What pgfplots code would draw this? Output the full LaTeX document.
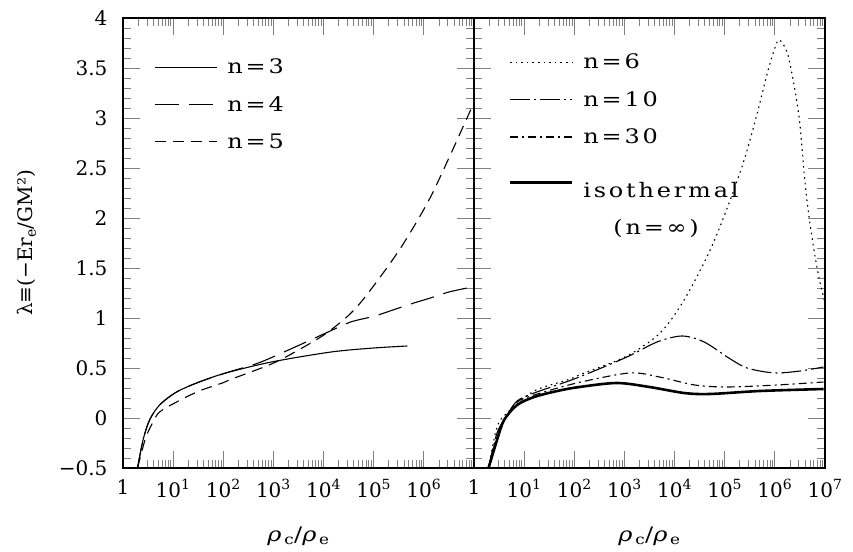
\documentclass[border=0pt]{standalone}
\usepackage{fontspec}
\setmainfont{DejaVu Serif}
\newfontfamily\widefont{DejaVu Serif}[FakeStretch=1.2, LetterSpace=14]
\usepackage{pgfplots}
\pgfplotsset{compat=1.18}

\newcommand{\plotfont}{\fontsize{20}{24}\selectfont}

\tikzset{crv/.style={black, line width=1.1pt, smooth, tension=0.5}}
\pgfplotsset{
  legend image code/.code={\draw[#1] (0pt,0pt) -- (62pt,0pt);},
}

\begin{document}
\begin{tikzpicture}
\begin{axis}[name=L,
  width=351pt, height=450pt, scale only axis,
  xmode=log, xmin=1, xmax=1e7, ymin=-0.5, ymax=4,
  xtick={1,10,100,1000,10000,100000,1000000,10000000},
  minor xtick={2,3,4,5,6,7,8,9,20,30,40,50,60,70,80,90,
    200,300,400,500,600,700,800,900,2000,3000,4000,5000,6000,7000,8000,9000,
    2e4,3e4,4e4,5e4,6e4,7e4,8e4,9e4,2e5,3e5,4e5,5e5,6e5,7e5,8e5,9e5,
    2e6,3e6,4e6,5e6,6e6,7e6,8e6,9e6},
  ytick={-0.5,0,0.5,1,1.5,2,2.5,3,3.5,4},
  minor y tick num=4,
  tick align=inside,
  major tick length=17pt, minor tick length=8pt,
  major tick style={line width=0.9pt},
  minor tick style={line width=0.8pt},
  axis line style={line width=1.3pt},
  tick label style={font=\plotfont},
  xticklabel style={yshift=-8pt},
  yticklabel style={xshift=-12pt},
  xlabel={\textit{ρ}\textsubscript{c}/\textit{ρ}\textsubscript{e}},
  xlabel style={font=\plotfont\widefont, yshift=-22pt},
  legend cell align=left,
  legend style={draw=none, fill=none, font=\plotfont\widefont,
    row sep=17pt, column sep=8pt, at={(0.08,0.918)}, anchor=north west},
  xticklabels={1,10\textsuperscript{1},10\textsuperscript{2},10\textsuperscript{3},10\textsuperscript{4},10\textsuperscript{5},10\textsuperscript{6},{}},
  yticklabels={−0.5,0,0.5,1,1.5,2,2.5,3,3.5,4},
  ylabel={λ≡(−Er\textsubscript{e}/GM²)},
  ylabel style={font=\fontsize{20}{24}\selectfont, yshift=16pt},
]
  % n=3
  \addplot[crv, solid] coordinates {
    (1.95,-0.5) (2.51,-0.22) (3.39,-0.02) (5.37,0.13) (11.7,0.26) (33.1,0.36)
    (112,0.45) (912,0.56) (14130,0.66) (100000,0.70) (467700,0.72)
  };
  \addlegendentry{n=3}
  % n=4
  \addplot[crv, dash pattern=on 24pt off 10pt] coordinates {
    (1.95,-0.5) (2.51,-0.22) (3.39,-0.02) (5.37,0.13) (11.7,0.26) (33.1,0.36)
    (129,0.46) (501,0.55) (1995,0.68) (12300,0.86) (34670,0.96) (104700,1.02)
    (316200,1.10) (631000,1.15) (1.349e6,1.20) (3.162e6,1.26) (9.12e6,1.31)
  };
  \addlegendentry{n=4}
  % n=5
  \addplot[crv, dash pattern=on 11pt off 7pt] coordinates {
    (1.95,-0.5) (2.82,-0.2) (3.98,-0.04) (5.37,0.06) (11.7,0.16) (33.1,0.27)
    (95.5,0.35) (148,0.39) (912,0.54) (3162,0.68) (12300,0.86) (47860,1.12)
    (295100,1.65) (1.175e6,2.15) (3.162e6,2.6) (8.913e6,3.1)
  };
  \addlegendentry{n=5}
\end{axis}

\begin{axis}[name=R, at={(L.south east)}, anchor=south west,
  width=351pt, height=450pt, scale only axis,
  xmode=log, xmin=1, xmax=1e7, ymin=-0.5, ymax=4,
  xtick={1,10,100,1000,10000,100000,1000000,10000000},
  minor xtick={2,3,4,5,6,7,8,9,20,30,40,50,60,70,80,90,
    200,300,400,500,600,700,800,900,2000,3000,4000,5000,6000,7000,8000,9000,
    2e4,3e4,4e4,5e4,6e4,7e4,8e4,9e4,2e5,3e5,4e5,5e5,6e5,7e5,8e5,9e5,
    2e6,3e6,4e6,5e6,6e6,7e6,8e6,9e6},
  ytick={-0.5,0,0.5,1,1.5,2,2.5,3,3.5,4},
  minor y tick num=4,
  tick align=inside,
  major tick length=17pt, minor tick length=8pt,
  major tick style={line width=0.9pt},
  minor tick style={line width=0.8pt},
  axis line style={line width=1.3pt},
  tick label style={font=\plotfont},
  xticklabel style={yshift=-8pt},
  xlabel={\textit{ρ}\textsubscript{c}/\textit{ρ}\textsubscript{e}},
  xlabel style={font=\plotfont\widefont, yshift=-22pt},
  legend cell align=left,
  legend style={draw=none, fill=none, font=\plotfont\widefont,
    row sep=17pt, column sep=8pt, at={(0.09,0.929)}, anchor=north west},
  xticklabels={1,10\textsuperscript{1},10\textsuperscript{2},10\textsuperscript{3},10\textsuperscript{4},10\textsuperscript{5},10\textsuperscript{6},10\textsuperscript{7}},
  yticklabels={},
]
  % n=6
  \addplot[crv, dash pattern=on 1.6pt off 4pt] coordinates {
    (1.95,-0.5) (2.88,-0.09) (4.57,0.05) (15.8,0.27) (72.4,0.38) (158,0.45)
    (1122,0.62) (5129,0.85) (15490,1.18) (51290,1.68) (128800,2.18) (251200,2.6)
    (446700,3.05) (707900,3.45) (1e6,3.7) (1.23e6,3.78) (1.778e6,3.65)
    (2.455e6,3.31) (3.09e6,2.98) (3.548e6,2.65) (4.074e6,2.31) (4.898e6,1.98)
    (6.166e6,1.65) (7.762e6,1.38) (1e7,1.15)
  };
  \addlegendentry{n=6}
  % n=10
  \addplot[crv, dash pattern=on 20pt off 4pt on 2pt off 4pt] coordinates {
    (1.95,-0.5) (2.88,-0.15) (4.57,0.03) (7.24,0.17) (15.8,0.25) (112,0.40)
    (1122,0.61) (4467,0.76) (14130,0.82) (38900,0.76) (112200,0.61)
    (245500,0.51) (501200,0.47) (1.122e6,0.45) (3.162e6,0.47) (9.33e6,0.51)
  };
  \addlegendentry{n=10}
  % n=30
  \addplot[crv, dash pattern=on 8pt off 4pt on 2pt off 4pt] coordinates {
    (1.95,-0.5) (2.88,-0.18) (4.27,0.0) (7.24,0.16) (15.8,0.23) (112,0.35)
    (1259,0.45) (5012,0.41) (25120,0.33) (112200,0.31) (1.096e6,0.33)
    (9.33e6,0.36)
  };
  \addlegendentry{n=30}
  % isothermal
  \addplot[crv, line width=2.6pt] coordinates {
    (1.95,-0.5) (2.88,-0.22) (3.98,-0.02) (7.24,0.13) (15.8,0.21) (45.7,0.27)
    (126,0.31) (708,0.35) (3162,0.31) (15490,0.25) (50120,0.24)
    (501200,0.27) (9.33e6,0.29)
  };
  \addlegendentry{\rule{0pt}{31pt}isothermal}
  \addlegendimage{empty legend}
  \addlegendentry{\hspace{30pt}(n=∞)}
\end{axis}

\path[use as bounding box] ([xshift=-123pt,yshift=-83pt]L.south west)
  rectangle ([xshift=730pt,yshift=468pt]L.south west);
\end{tikzpicture}
\end{document}
